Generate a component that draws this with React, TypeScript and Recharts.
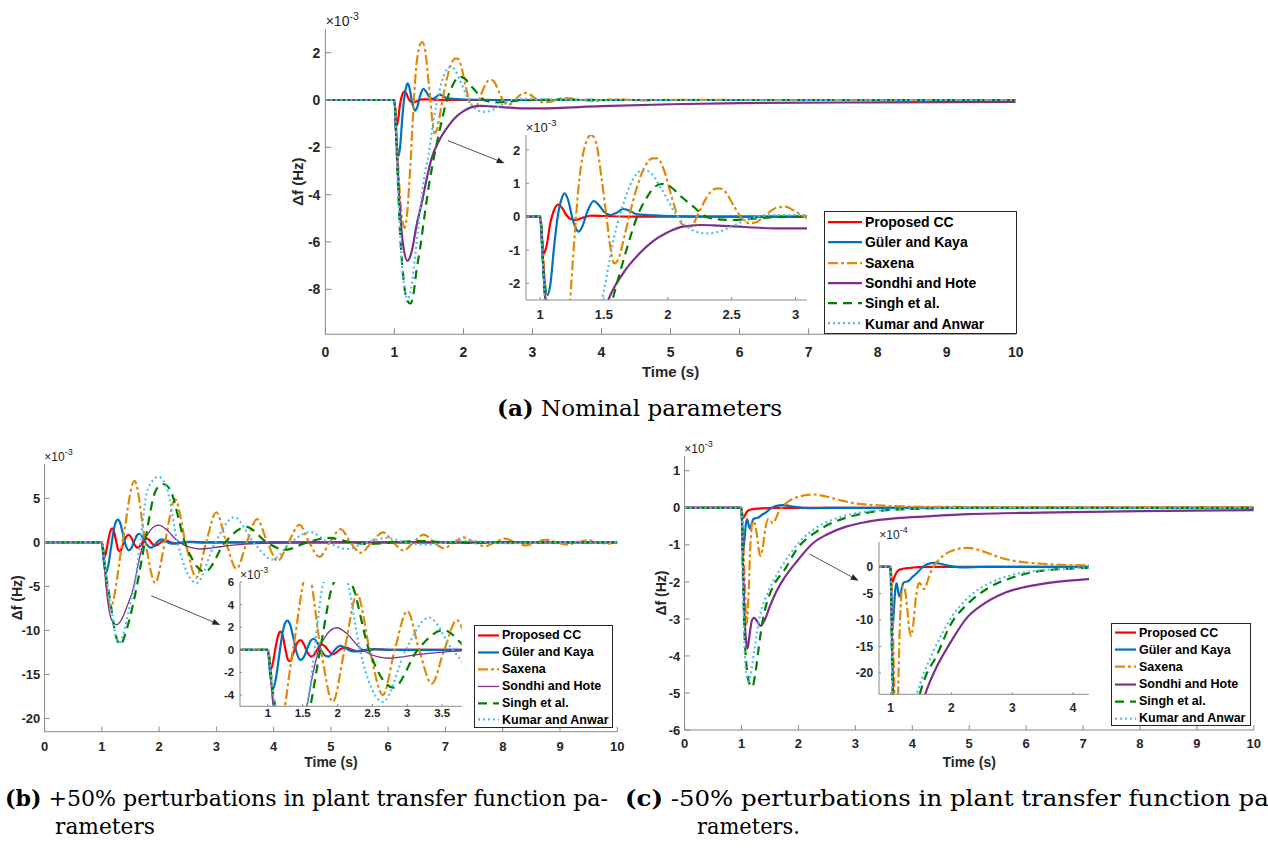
import React from 'react';
import { LineChart, Line, XAxis, YAxis, ReferenceLine, Legend, CartesianGrid } from 'recharts';

type Pt = [number, number];

// (a) nominal parameters, values in 1e-3 Hz
const aProposed: Pt[] = [[0,0],[1,0],[1.015,-0.6],[1.03,-1.1],[1.05,-0.9],[1.08,-0.2],[1.11,0.2],[1.14,0.36],[1.17,0.28],[1.2,0.08],[1.24,-0.07],[1.28,-0.1],[1.33,-0.04],[1.4,0.03],[1.5,0.02],[1.7,0],[10,0]];
const aGuler: Pt[] = [[0,0],[1,0],[1.02,-1.2],[1.04,-2.1],[1.06,-2.35],[1.08,-2.05],[1.11,-0.9],[1.14,0.05],[1.17,0.55],[1.19,0.7],[1.22,0.5],[1.25,0],[1.28,-0.35],[1.3,-0.45],[1.33,-0.3],[1.37,0.15],[1.42,0.47],[1.46,0.35],[1.5,0.15],[1.55,0.05],[1.6,0.12],[1.65,0.23],[1.7,0.18],[1.76,0.07],[1.85,0.05],[2,0.02],[2.5,0],[10,0]];
const aSaxena: Pt[] = [[0,0],[1,0],[1.03,-1.5],[1.07,-3.6],[1.11,-5.0],[1.15,-5.4],[1.19,-4.6],[1.23,-2.8],[1.27,-0.6],[1.31,1.2],[1.35,2.1],[1.4,2.45],[1.44,2.2],[1.48,1.2],[1.52,0],[1.55,-0.9],[1.58,-1.4],[1.61,-1.3],[1.66,-0.6],[1.71,0.2],[1.76,0.9],[1.82,1.5],[1.88,1.75],[1.92,1.75],[1.97,1.4],[2.03,0.6],[2.08,0],[2.13,-0.28],[2.18,-0.3],[2.24,0.1],[2.3,0.55],[2.36,0.82],[2.4,0.85],[2.45,0.75],[2.52,0.3],[2.58,-0.05],[2.64,-0.2],[2.7,-0.15],[2.78,0.1],[2.86,0.28],[2.92,0.3],[2.98,0.2],[3.06,0.02],[3.15,-0.1],[3.25,-0.08],[3.4,0.06],[3.5,0.08],[3.7,0],[3.9,-0.04],[4.2,0.03],[4.6,-0.02],[5,0.01],[6,0],[10,0]];
const aSondhi: Pt[] = [[0,0],[1,0],[1.03,-1.8],[1.07,-4.2],[1.12,-6.0],[1.19,-6.8],[1.25,-6.4],[1.32,-5.3],[1.4,-4.3],[1.47,-3.3],[1.535,-2.5],[1.65,-1.7],[1.78,-1.1],[1.88,-0.75],[2,-0.47],[2.12,-0.3],[2.25,-0.25],[2.4,-0.27],[2.6,-0.31],[2.83,-0.35],[3.1,-0.35],[4,-0.26],[5,-0.18],[6,-0.13],[8,-0.1],[10,-0.08]];
const aSingh: Pt[] = [[0,0],[1,0],[1.03,-2],[1.08,-5.5],[1.14,-7.8],[1.19,-8.5],[1.23,-8.6],[1.27,-8.3],[1.32,-7.2],[1.37,-6.3],[1.44,-4.8],[1.5,-3.6],[1.574,-2.4],[1.62,-1.75],[1.68,-0.95],[1.76,0],[1.84,0.6],[1.9,0.9],[1.95,0.98],[2.02,0.9],[2.1,0.62],[2.2,0.3],[2.3,0],[2.4,-0.08],[2.5,-0.1],[2.65,-0.07],[2.8,-0.02],[3,0],[3.3,0.02],[4,0],[10,0]];
const aKumar: Pt[] = [[0,0],[1,0],[1.03,-2],[1.08,-5.5],[1.13,-7.6],[1.19,-8.4],[1.24,-8.0],[1.3,-6.6],[1.37,-4.7],[1.44,-3.1],[1.495,-2.3],[1.54,-1.4],[1.58,-0.6],[1.63,0.1],[1.7,0.9],[1.76,1.3],[1.81,1.4],[1.87,1.3],[1.94,0.9],[2,0.5],[2.05,0.15],[2.12,-0.2],[2.2,-0.42],[2.3,-0.5],[2.4,-0.45],[2.5,-0.3],[2.6,-0.12],[2.7,0],[2.83,0.05],[3,0.05],[3.3,0.02],[4,0],[10,0]];

// (b) +50% perturbation, values in 1e-3 Hz
const bProposed: Pt[] = [[0,0],[1,0],[1.02,-1.0],[1.04,-1.78],[1.07,-1.2],[1.11,0.2],[1.15,1.3],[1.18,1.6],[1.21,1.3],[1.25,0.1],[1.29,-0.9],[1.32,-1.0],[1.36,-0.4],[1.42,0.6],[1.47,0.85],[1.52,0.45],[1.57,-0.25],[1.62,-0.6],[1.67,-0.4],[1.72,0.15],[1.77,0.45],[1.82,0.3],[1.88,-0.15],[1.93,-0.4],[1.98,-0.25],[2.05,0.1],[2.12,0.2],[2.2,0.02],[2.3,-0.12],[2.42,-0.03],[2.55,0.05],[2.8,0],[10,0]];
const bGuler: Pt[] = [[0,0],[1,0],[1.03,-2.0],[1.07,-3.5],[1.11,-2.7],[1.16,-0.6],[1.21,1.5],[1.25,2.4],[1.28,2.58],[1.32,2.2],[1.37,0.9],[1.42,-0.4],[1.47,-0.9],[1.52,-0.6],[1.57,0.2],[1.62,0.85],[1.66,0.98],[1.71,0.6],[1.77,-0.1],[1.83,-0.55],[1.87,-0.6],[1.93,-0.25],[1.99,0.2],[2.04,0.35],[2.1,0.2],[2.18,-0.08],[2.25,-0.15],[2.35,-0.05],[2.5,0.06],[2.7,0],[10,0]];
const bSaxena: Pt[] = [[0,0],[1,0],[1.08,-4.8],[1.15,-7.4],[1.36,0],[1.57,7.0],[1.76,0],[1.93,-4.6],[2.1,0],[2.28,4.9],[2.46,0],[2.65,-4.0],[2.82,0],[3.0,3.42],[3.17,0],[3.35,-3.0],[3.53,0],[3.71,2.63],[3.89,0],[4.07,-2.1],[4.26,0],[4.45,2.0],[4.62,0],[4.8,-1.65],[4.98,0],[5.17,1.5],[5.34,0],[5.52,-1.2],[5.71,0],[5.91,1.13],[6.09,0],[6.27,-0.93],[6.44,0],[6.62,0.87],[6.8,0],[6.97,-0.67],[7.15,0],[7.32,0.56],[7.5,0],[7.69,-0.45],[7.86,0],[8.04,0.42],[8.22,0],[8.41,-0.35],[8.58,0],[8.76,0.3],[8.94,0],[9.11,-0.25],[9.3,0],[9.5,0.24],[9.68,0],[9.85,-0.15],[10,0]];
const bSondhi: Pt[] = [[0,0],[1,0],[1.05,-3.3],[1.1,-6.6],[1.17,-8.8],[1.26,-9.35],[1.35,-8.7],[1.45,-7.1],[1.55,-5.2],[1.65,-2.0],[1.73,0],[1.85,1.4],[1.99,1.95],[2.12,1.5],[2.3,0.3],[2.45,-0.35],[2.6,-0.65],[2.74,-0.75],[2.95,-0.6],[3.2,-0.38],[3.5,-0.2],[3.8,-0.1],[4.3,-0.05],[5,0],[10,0]];
const bSingh: Pt[] = [[0,0],[1,0],[1.06,-3.1],[1.15,-6.8],[1.23,-10.2],[1.32,-11.6],[1.45,-9.5],[1.61,-5.0],[1.75,0],[1.95,6.0],[2.08,6.6],[2.19,6.0],[2.45,0],[2.8,-3.35],[3.15,0],[3.52,1.75],[3.88,0],[4.2,-0.85],[4.58,0],[4.97,0.5],[5.35,0],[5.7,-0.18],[6.1,0],[6.6,0.15],[7.0,0],[7.4,-0.05],[8,0],[10,0]];
const bKumar: Pt[] = [[0,0],[1,0],[1.06,-3.1],[1.15,-6.8],[1.23,-10.2],[1.3,-11.4],[1.4,-9.8],[1.5,-6.8],[1.58,-4.5],[1.67,0],[1.8,6.0],[1.99,7.45],[2.14,6.0],[2.32,0],[2.65,-4.6],[2.98,0],[3.31,2.86],[3.65,0],[3.98,-1.95],[4.3,0],[4.64,1.17],[4.95,0],[5.28,-0.75],[5.62,0],[5.98,0.5],[6.3,0],[6.68,-0.27],[7.0,0],[7.43,0.2],[7.75,0],[8.1,-0.1],[8.5,0],[10,0]];

// (c) -50% perturbation, values in 1e-3 Hz
const cProposed: Pt[] = [[0,0],[1,0],[1.01,-0.15],[1.03,-0.28],[1.06,-0.2],[1.1,-0.1],[1.15,-0.05],[1.3,-0.02],[1.6,0],[10,0]];
const cGuler: Pt[] = [[0,0],[1,0],[1.01,-0.4],[1.03,-1.19],[1.05,-0.9],[1.08,-0.4],[1.1,-0.31],[1.13,-0.5],[1.15,-0.56],[1.18,-0.42],[1.21,-0.3],[1.25,-0.28],[1.3,-0.26],[1.35,-0.2],[1.43,-0.12],[1.51,-0.02],[1.6,0.05],[1.73,0.075],[1.85,0.05],[1.97,0.02],[2.2,-0.01],[2.5,0],[10,0]];
const cSaxena: Pt[] = [[0,0],[1,0],[1.03,-0.8],[1.06,-2.2],[1.09,-3.15],[1.12,-2.5],[1.15,-1.2],[1.18,-0.5],[1.21,-0.36],[1.24,-0.45],[1.28,-0.85],[1.31,-1.2],[1.34,-1.3],[1.37,-1.1],[1.42,-0.55],[1.47,-0.3],[1.51,-0.35],[1.55,-0.42],[1.59,-0.33],[1.65,-0.12],[1.72,0.03],[1.85,0.2],[2,0.3],[2.27,0.36],[2.5,0.3],[2.74,0.2],[3,0.12],[3.5,0.06],[4.2,0.03],[6,0.02],[10,0.02]];
const cSondhi: Pt[] = [[0,0],[1,0],[1.02,-1.2],[1.05,-2.8],[1.08,-3.6],[1.105,-3.8],[1.14,-3.45],[1.18,-3.05],[1.22,-2.97],[1.27,-3.05],[1.33,-3.19],[1.4,-3.05],[1.5,-2.65],[1.6,-2.3],[1.75,-1.9],[1.97,-1.45],[2.26,-0.95],[2.5,-0.72],[2.85,-0.5],[3.2,-0.38],[3.73,-0.28],[4.26,-0.23],[5,-0.17],[6.24,-0.13],[8,-0.09],[10,-0.06]];
const cSingh: Pt[] = [[0,0],[1,0],[1.02,-1.5],[1.05,-3.3],[1.09,-4.3],[1.14,-4.75],[1.19,-4.84],[1.24,-4.5],[1.3,-3.8],[1.36,-3.15],[1.42,-2.7],[1.48,-2.4],[1.58,-2.05],[1.75,-1.69],[1.97,-1.12],[2.3,-0.66],[2.6,-0.4],[3,-0.2],[3.5,-0.07],[4.2,-0.02],[5,0],[10,0]];
const cKumar: Pt[] = [[0,0],[1,0],[1.02,-1.6],[1.05,-3.6],[1.08,-4.45],[1.12,-4.69],[1.16,-4.5],[1.22,-3.9],[1.3,-3.1],[1.37,-2.65],[1.43,-2.4],[1.55,-2.0],[1.7,-1.6],[1.85,-1.25],[2,-0.95],[2.3,-0.55],[2.6,-0.32],[3,-0.15],[3.5,-0.06],[4.2,-0.02],[5,0],[10,0]];

const NAMES = ['Proposed CC', 'Güler and Kaya', 'Saxena', 'Sondhi and Hote', 'Singh et al.', 'Kumar and Anwar'];
const COLORS = ['#ff0000', '#0072bd', '#e08a0b', '#7e2f8e', '#008000', '#4dbeee'];
const DASHES = [undefined, undefined, '10 3 3 3', undefined, '9 6', '2 3'];

const mainTicks = [0, 1, 2, 3, 4, 5, 6, 7, 8, 9, 10];

const FONT = '"Liberation Sans", Arial, Helvetica, sans-serif';
const AX = '#8a8a8a';
const TXT = '#262626';
const MT = 10;
const MR = 14;

type Box = { l: number; t: number; r: number; b: number };
type Leg = { l: number; t: number; w: number; h: number; row: number; lineW: number; fs: number; pad: number };

interface PanelProps {
  box: Box;
  xDomain: [number, number];
  yDomain: [number, number];
  xTicks: number[];
  yTicks: number[];
  yFmt?: (v: number) => string;
  fs: number;
  tl: number;
  tmx: number;
  tmy: number;
  series: Pt[][];
  widths: number[];
  inset?: boolean;
  yLabel?: { x: number; fs: number };
  xLabel?: { y: number; fs: number };
  legend?: Leg;
  arrow?: [Pt, Pt];
  exp: string;
  expFs: number;
}

function Arrow(props: any) {
  const { x1, y1, x2, y2 } = props;
  const a = Math.atan2(y2 - y1, x2 - x1);
  const L = 8, w = 3;
  const bx = x2 - L * Math.cos(a), by = y2 - L * Math.sin(a);
  const px = -Math.sin(a) * w, py = Math.cos(a) * w;
  return (
    <g>
      <line x1={x1} y1={y1} x2={bx} y2={by} stroke={TXT} strokeWidth={0.8} />
      <path d={`M${x2},${y2}L${bx + px},${by + py}L${bx - px},${by - py}Z`} fill={TXT} />
    </g>
  );
}

function LegendBox({ lg, widths }: { lg: Leg; widths: number[] }) {
  return (
    <div style={{ width: lg.w, height: lg.h, boxSizing: 'border-box', border: `1px solid ${TXT}`, background: '#fff', paddingTop: lg.pad, paddingLeft: 2 }}>
      {NAMES.map((n, i) => (
        <div key={n} style={{ display: 'flex', alignItems: 'center', height: lg.row }}>
          <svg width={lg.lineW + 4} height={lg.row} style={{ display: 'block' }}>
            <line x1={1} x2={lg.lineW + 1} y1={lg.row / 2} y2={lg.row / 2} stroke={COLORS[i]} strokeWidth={widths[i]} strokeDasharray={DASHES[i]} />
          </svg>
          <span style={{ font: `700 ${lg.fs}px ${FONT}`, color: '#000', whiteSpace: 'nowrap', lineHeight: 1 }}>{n}</span>
        </div>
      ))}
    </div>
  );
}

function Panel(p: PanelProps) {
  const pw = p.box.r - p.box.l;
  const ph = p.box.b - p.box.t;
  const yw = p.yLabel ? 2 * (p.box.l - p.yLabel.x) : 40;
  const xh = p.xLabel ? 2 * (p.xLabel.y - p.box.b) : 25;
  const W = yw + pw + MR;
  const H = MT + ph + xh;
  const left = p.box.l - yw;
  const top = p.box.t - MT;
  const tick = { fontSize: p.fs, fontWeight: 700, fill: TXT, fontFamily: FONT };
  const lblStyle = (fs: number) => ({ fontSize: fs, fontWeight: 700, fill: TXT, fontFamily: FONT });
  return (
    <>
      <div style={{ position: 'absolute', left, top, width: W, height: H }}>
        <LineChart width={W} height={H} margin={{ top: MT, right: MR, bottom: 0, left: 0 }}>
          {p.inset && <CartesianGrid horizontal={false} vertical={false} fill="#fff" />}
          <XAxis dataKey="t" type="number" domain={p.xDomain} ticks={p.xTicks} allowDataOverflow interval={0}
            height={xh} tickSize={-p.tl} tickMargin={p.tmx} tick={tick} stroke={AX}
            label={p.xLabel ? { value: 'Time (s)', position: 'center', style: lblStyle(p.xLabel.fs) } : undefined} />
          <XAxis xAxisId="top" orientation="top" type="number" domain={p.xDomain} ticks={p.xTicks} allowDataOverflow interval={0}
            height={0} tickSize={-p.tl} tickFormatter={() => ''} stroke={AX} />
          <YAxis type="number" domain={p.yDomain} ticks={p.yTicks} allowDataOverflow interval={0}
            width={yw} tickSize={-p.tl} tickMargin={p.tmy} tick={tick} stroke={AX} tickFormatter={p.yFmt}
            label={p.yLabel ? { value: 'Δf (Hz)', angle: -90, position: 'center', style: lblStyle(p.yLabel.fs) } : undefined} />
          <YAxis yAxisId="right" orientation="right" type="number" domain={p.yDomain} ticks={p.yTicks} allowDataOverflow interval={0}
            width={0} tickSize={-p.tl} tickFormatter={() => ''} stroke={AX} />
          {p.series.map((s, i) => (
            <Line key={NAMES[i]} name={NAMES[i]} data={s.map(([t, v]) => ({ t, v }))} dataKey="v" type="monotone"
              stroke={COLORS[i]} strokeWidth={p.widths[i]} strokeDasharray={DASHES[i]} dot={false} activeDot={false}
              isAnimationActive={false} />
          ))}
          {p.arrow && (
            <ReferenceLine segment={[{ x: p.arrow[0][0], y: p.arrow[0][1] }, { x: p.arrow[1][0], y: p.arrow[1][1] }]}
              ifOverflow="visible" shape={(sp: any) => <Arrow {...sp} />} />
          )}
          {p.legend && (
            <Legend layout="vertical" align="center" verticalAlign="middle"
              wrapperStyle={{ left: p.legend.l - left, top: p.legend.t - top, width: p.legend.w, height: p.legend.h }}
              content={() => <LegendBox lg={p.legend as Leg} widths={p.widths} />} />
          )}
        </LineChart>
      </div>
      <div style={{ position: 'absolute', left: p.box.l, top: p.box.t - 3 - 0.846 * p.expFs, font: `${p.expFs}px ${FONT}`, lineHeight: 1, color: TXT, whiteSpace: 'nowrap' }}>
        ×10<span style={{ fontSize: p.expFs * 0.75, position: 'relative', top: -p.expFs * 0.45 }}>{p.exp}</span>
      </div>
    </>
  );
}

function Caption({ x, y, len, bold, text }: { x: number; y: number; len: number; bold?: string; text: string }) {
  return (
    <text x={x} y={y} textLength={len} lengthAdjust="spacingAndGlyphs" fontFamily='"DejaVu Serif", serif' fontSize={22} fill="#000">
      {bold && <tspan fontWeight={700}>{bold}</tspan>}
      {text}
    </text>
  );
}

export default function App() {
  const wA = [2.2, 2.2, 2.2, 2.2, 2.2, 2.2];
  const wB = [2.2, 2.2, 2.2, 1.3, 2.2, 2.2];
  const aData = [aProposed, aGuler, aSaxena, aSondhi, aSingh, aKumar];
  const bData = [bProposed, bGuler, bSaxena, bSondhi, bSingh, bKumar];
  const cData = [cProposed, cGuler, cSaxena, cSondhi, cSingh, cKumar];
  return (
    <div style={{ position: 'absolute', left: 0, top: 0, width: 1268, height: 848, overflow: 'hidden', background: '#fff' }}>
      <Panel box={{ l: 325.7, t: 29, r: 1016, b: 334.3 }} xDomain={[0, 10]} yDomain={[-9.9, 3]} xTicks={mainTicks} yTicks={[-8, -6, -4, -2, 0, 2]}
        fs={14} tl={6} tmx={18.4} tmy={11} series={aData} widths={wA}
        yLabel={{ x: 298, fs: 15 }} xLabel={{ y: 372, fs: 15 }} arrow={[[1.776, -1.72], [2.597, -2.67]]}
        legend={{ l: 824, t: 211, w: 193, h: 123, row: 20.3, lineW: 34, fs: 14, pad: 0 }} exp="-3" expFs={14} />
      <Panel box={{ l: 525.7, t: 135, r: 806.7, b: 300 }} xDomain={[0.89, 3.09]} yDomain={[-2.5, 2.45]} xTicks={[1, 1.5, 2, 2.5, 3]} yTicks={[-2, -1, 0, 1, 2]}
        fs={13} tl={3} tmx={13} tmy={8.7} series={aData} widths={wA} inset exp="-3" expFs={13} />

      <Panel box={{ l: 44.3, t: 464, r: 617, b: 731.7 }} xDomain={[0, 10]} yDomain={[-21.5, 8.9]} xTicks={mainTicks} yTicks={[-20, -15, -10, -5, 0, 5]}
        fs={13} tl={5} tmx={15} tmy={9.3} series={bData} widths={wB}
        yLabel={{ x: 17, fs: 14 }} xLabel={{ y: 762, fs: 14 }} arrow={[[1.863, -6.06], [3.068, -9.38]]}
        legend={{ l: 474, t: 625, w: 139, h: 103, row: 16.9, lineW: 21, fs: 12.5, pad: 1 }} exp="-3" expFs={12} />
      <Panel box={{ l: 240, t: 581.7, r: 461.7, b: 706 }} xDomain={[0.6, 3.78]} yDomain={[-5, 6]} xTicks={[1, 1.5, 2, 2.5, 3, 3.5]} yTicks={[-4, -2, 0, 2, 4, 6]}
        fs={11.5} tl={2.2} tmx={4.5} tmy={8} series={bData} widths={wB} inset exp="-3" expFs={12} />

      <Panel box={{ l: 684.3, t: 456, r: 1253.5, b: 730 }} xDomain={[0, 10]} yDomain={[-6, 1.4]} xTicks={mainTicks} yTicks={[-6, -5, -4, -3, -2, -1, 0, 1]}
        fs={13} tl={5} tmx={13.3} tmy={9.3} series={cData} widths={wA}
        yLabel={{ x: 661, fs: 14 }} xLabel={{ y: 762, fs: 14 }} arrow={[[2.197, -1.248], [3.058, -1.968]]}
        legend={{ l: 1111, t: 623.3, w: 140, h: 103, row: 17.1, lineW: 21, fs: 12.5, pad: 0 }} exp="-3" expFs={12} />
      <Panel box={{ l: 879.3, t: 541.7, r: 1089.3, b: 694 }} xDomain={[0.81, 4.26]} yDomain={[-2.4, 0.47]} xTicks={[1, 2, 3, 4]} yTicks={[-2, -1.5, -1, -0.5, 0]}
        yFmt={(v) => String(Math.round(v * 10))}
        fs={12} tl={2.1} tmx={11.3} tmy={8} series={cData} widths={wA} inset exp="-4" expFs={12} />

      <svg width={1268} height={848} style={{ position: 'absolute', left: 0, top: 0, pointerEvents: 'none' }}>
        <Caption x={497} y={416} len={285} bold="(a)" text=" Nominal parameters" />
        <Caption x={5} y={806} len={603} bold="(b)" text=" +50% perturbations in plant transfer function pa-" />
        <Caption x={55} y={834} len={100} text="rameters" />
        <Caption x={625} y={806} len={652} bold="(c)" text=" -50% perturbations in plant transfer function pa-" />
        <Caption x={697} y={834} len={103} text="rameters." />
      </svg>
    </div>
  );
}
